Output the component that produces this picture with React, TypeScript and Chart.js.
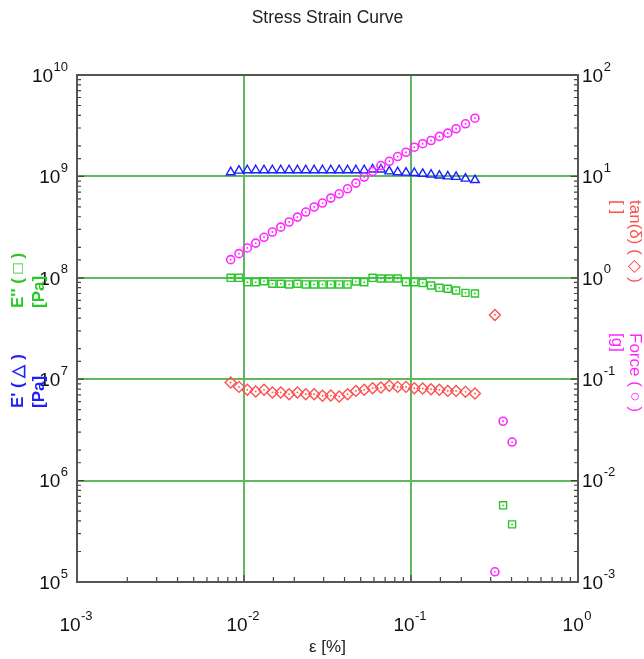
import { useEffect, useRef } from 'react';
import { Chart, registerables } from 'chart.js';

Chart.register(...registerables);

// ---- data ----
const strain = [
  0.00832, 0.00933, 0.01047, 0.01175, 0.01318, 0.01479, 0.0166, 0.01862, 0.02089, 0.02344,
  0.0263, 0.02951, 0.03311, 0.03715, 0.04169, 0.04677, 0.05248, 0.05888, 0.06607, 0.07413,
  0.08318, 0.09333, 0.1047, 0.1175, 0.1318, 0.1479, 0.166, 0.1862, 0.212, 0.2415,
];
// E' [Pa] (triangles)
const storageModulus = [
  1.10e9, 1.14e9, 1.15e9, 1.15e9, 1.15e9, 1.15e9, 1.15e9, 1.15e9, 1.15e9, 1.15e9,
  1.15e9, 1.15e9, 1.15e9, 1.15e9, 1.15e9, 1.15e9, 1.15e9, 1.17e9, 1.17e9, 1.12e9,
  1.10e9, 1.09e9, 1.08e9, 1.06e9, 1.04e9, 1.02e9, 1.0e9, 0.99e9, 0.95e9, 0.92e9,
];
// E'' [Pa] (squares)
const lossModulus = [
  1.0e8, 1.0e8, 0.905e8, 0.905e8, 0.926e8, 0.873e8, 0.873e8, 0.86e8, 0.873e8, 0.86e8,
  0.86e8, 0.86e8, 0.86e8, 0.86e8, 0.86e8, 0.92e8, 0.905e8, 1.0e8, 0.984e8, 0.984e8,
  0.984e8, 0.905e8, 0.905e8, 0.89e8, 0.84e8, 0.797e8, 0.78e8, 0.75e8, 0.71e8, 0.70e8,
];
// tan(delta) [-] (diamonds)
const tanDelta = [
  0.0928, 0.084, 0.0785, 0.0756, 0.0785, 0.074, 0.074, 0.0712, 0.074, 0.0712,
  0.0712, 0.0685, 0.069, 0.0675, 0.0712, 0.0767, 0.0785, 0.0815, 0.0828, 0.086,
  0.084, 0.084, 0.0815, 0.081, 0.0797, 0.0785, 0.0767, 0.0767, 0.075, 0.0723,
];
// Force [g] (circles)
const force = [
  1.51, 1.73, 1.97, 2.2, 2.51, 2.83, 3.16, 3.55, 3.97, 4.45,
  4.99, 5.46, 6.11, 6.74, 7.55, 8.59, 9.84, 11.2, 12.8, 14.1,
  15.7, 17.3, 19.4, 21.0, 22.6, 24.8, 26.7, 29.5, 33.0, 37.5,
];
// last (broken) measurement points
const tailStrain = [0.318, 0.356, 0.403];
const tailLossModulus = [null, 5.7e5, 3.7e5];
const tailTanDelta = [0.43, null, null];
const tailForce = [0.00126, 0.0385, 0.024];

const xTickExponents = [-3, -2, -1, 0];
const leftTickExponents = [10, 9, 8, 7, 6, 5];
const rightTickExponents = [2, 1, 0, -1, -2, -3];

const titleText = 'Stress Strain Curve';
const xTitle = 'ε [%]';

const BLUE = 'rgb(30,30,255)';
const GREEN = 'rgb(40,200,40)';
const RED = 'rgb(255,80,80)';
const MAGENTA = 'rgb(255,40,255)';
const GRID = 'rgb(95,185,95)';
const FONT = '"Liberation Sans", Arial, Helvetica, sans-serif';

function points(xs: number[], ys: (number | null)[]) {
  const out: { x: number; y: number }[] = [];
  xs.forEach((x, i) => {
    const y = ys[i];
    if (y != null) out.push({ x, y });
  });
  return out;
}

const isPow10 = (v: number) => {
  const l = Math.log10(v);
  return Math.abs(l - Math.round(l)) < 1e-6;
};

function drawPow(ctx: CanvasRenderingContext2D, exp: number, x: number, y: number, align: 'left' | 'right' | 'center') {
  const baseFont = `19px ${FONT}`;
  const expFont = `13px ${FONT}`;
  const e = String(exp);
  ctx.font = baseFont;
  const wb = ctx.measureText('10').width;
  ctx.font = expFont;
  const we = ctx.measureText(e).width;
  const total = wb + we + 0.5;
  let left = x;
  if (align === 'right') left = x - total;
  else if (align === 'center') left = x - total / 2;
  ctx.textAlign = 'left';
  ctx.textBaseline = 'alphabetic';
  ctx.font = baseFont;
  ctx.fillText('10', left, y + 6.8);
  ctx.font = expFont;
  ctx.fillText(e, left + wb + 0.5, y - 4.5);
}

function rotText(ctx: CanvasRenderingContext2D, text: string, x: number, y: number, angle: number, color: string, font: string) {
  ctx.save();
  ctx.translate(x, y);
  ctx.rotate(angle);
  ctx.fillStyle = color;
  ctx.font = font;
  ctx.textAlign = 'left';
  ctx.textBaseline = 'middle';
  ctx.fillText(text, 0, 0);
  ctx.restore();
}

const decorPlugin = {
  id: 'decor',
  afterDatasetsDraw(chart: any) {
    const ctx = chart.ctx as CanvasRenderingContext2D;
    chart.data.datasets.forEach((ds: any, i: number) => {
      if (!ds.centerDot) return;
      const meta = chart.getDatasetMeta(i);
      ctx.save();
      ctx.fillStyle = ds.borderColor;
      meta.data.forEach((el: any) => {
        ctx.beginPath();
        ctx.arc(el.x, el.y, 0.9, 0, Math.PI * 2);
        ctx.fill();
      });
      ctx.restore();
    });
  },
  afterDraw(chart: any) {
    const ctx = chart.ctx as CanvasRenderingContext2D;
    const a = chart.chartArea;
    const { x, y, y2 } = chart.scales;
    ctx.save();

    // tick marks (inside)
    ctx.strokeStyle = '#444';
    ctx.lineWidth = 1.2;
    ctx.beginPath();
    x.ticks.forEach((t: any) => {
      const p = x.getPixelForValue(t.value);
      if (p <= a.left + 1 || p >= a.right - 1) return;
      const len = t.major ? 7 : 5;
      ctx.moveTo(p, a.bottom);
      ctx.lineTo(p, a.bottom - len);
    });
    y.ticks.forEach((t: any) => {
      const p = y.getPixelForValue(t.value);
      if (p <= a.top + 1 || p >= a.bottom - 1) return;
      const len = t.major ? 7 : 4;
      ctx.moveTo(a.left, p);
      ctx.lineTo(a.left + len, p);
    });
    y2.ticks.forEach((t: any) => {
      const p = y2.getPixelForValue(t.value);
      if (p <= a.top + 1 || p >= a.bottom - 1) return;
      const len = t.major ? 7 : 4;
      ctx.moveTo(a.right, p);
      ctx.lineTo(a.right - len, p);
    });
    ctx.stroke();

    // frame
    ctx.strokeStyle = '#555';
    ctx.lineWidth = 2;
    ctx.strokeRect(a.left, a.top, a.right - a.left, a.bottom - a.top);

    // tick labels
    ctx.fillStyle = '#111';
    leftTickExponents.forEach((e) => {
      drawPow(ctx, e, a.left - 9, y.getPixelForValue(Math.pow(10, e)), 'right');
    });
    rightTickExponents.forEach((e) => {
      drawPow(ctx, e, a.right + 4, y2.getPixelForValue(Math.pow(10, e)), 'left');
    });
    xTickExponents.forEach((e) => {
      drawPow(ctx, e, x.getPixelForValue(Math.pow(10, e)) - 1, a.bottom + 42, 'center');
    });

    // titles
    ctx.fillStyle = '#222';
    ctx.font = `17.5px ${FONT}`;
    ctx.textAlign = 'center';
    ctx.textBaseline = 'middle';
    ctx.fillText(titleText, (a.left + a.right) / 2, 18);
    ctx.font = `17px ${FONT}`;
    ctx.fillText(xTitle, (a.left + a.right) / 2, 647);

    const leftFont = `bold 17px ${FONT}`;
    const rightFont = `17px ${FONT}`;
    // left axis titles (rotated, reading upward)
    rotText(ctx, "E'' ( □ )", 18, 308, -Math.PI / 2, GREEN, leftFont);
    rotText(ctx, '[Pa]', 39, 308, -Math.PI / 2, GREEN, leftFont);
    rotText(ctx, "E' ( △ )", 18, 408, -Math.PI / 2, BLUE, leftFont);
    rotText(ctx, '[Pa]', 39, 408, -Math.PI / 2, BLUE, leftFont);
    // right axis titles (rotated, reading downward)
    rotText(ctx, 'tan(δ) ( ◇ )', 635, 200, Math.PI / 2, RED, rightFont);
    rotText(ctx, '[ ]', 617, 200, Math.PI / 2, RED, rightFont);
    rotText(ctx, 'Force ( ○ )', 635, 333, Math.PI / 2, MAGENTA, rightFont);
    rotText(ctx, '[g]', 617, 333, Math.PI / 2, MAGENTA, rightFont);

    ctx.restore();
  },
};

export default function App() {
  const ref = useRef<HTMLCanvasElement | null>(null);

  useEffect(() => {
    if (!ref.current) return;
    const gridColor = (c: any) => {
      const t = c.tick;
      if (!t || !t.major) return 'rgba(0,0,0,0)';
      const sc = c.scale;
      if (Math.abs(t.value - sc.min) / sc.min < 1e-6 || Math.abs(t.value - sc.max) / sc.max < 1e-6) return 'rgba(0,0,0,0)';
      return isPow10(t.value) ? GRID : 'rgba(0,0,0,0)';
    };
    const chart = new Chart(ref.current, {
      type: 'scatter',
      data: {
        datasets: [
          {
            label: 'Force',
            data: [...points(strain, force), ...points(tailStrain, tailForce)],
            yAxisID: 'y2',
            pointStyle: 'circle',
            pointRadius: 4,
            borderColor: MAGENTA,
            backgroundColor: 'rgba(0,0,0,0)',
            borderWidth: 1.6,
            centerDot: true,
          } as any,
          {
            label: "E'",
            data: points(strain, storageModulus),
            yAxisID: 'y',
            pointStyle: 'triangle',
            pointRadius: 5,
            borderColor: BLUE,
            backgroundColor: 'rgba(0,0,0,0)',
            borderWidth: 1.4,
          },
          {
            label: "E''",
            data: [...points(strain, lossModulus), ...points(tailStrain, tailLossModulus)],
            yAxisID: 'y',
            pointStyle: 'rect',
            pointRadius: 5,
            borderColor: GREEN,
            backgroundColor: 'rgba(0,0,0,0)',
            borderWidth: 1.4,
            centerDot: true,
          } as any,
          {
            label: 'tan(δ)',
            data: [...points(strain, tanDelta), ...points(tailStrain, tailTanDelta)],
            yAxisID: 'y2',
            pointStyle: 'rectRot',
            pointRadius: 5.5,
            borderColor: RED,
            backgroundColor: 'rgba(0,0,0,0)',
            borderWidth: 1.4,
            centerDot: true,
          } as any,
        ],
      },
      options: {
        responsive: false,
        animation: false,
        events: [],
        layout: { padding: { left: 77, right: 66, top: 75, bottom: 77 } },
        plugins: {
          legend: { display: false },
          title: { display: false },
          tooltip: { enabled: false },
        },
        scales: {
          x: {
            type: 'logarithmic',
            min: 1e-3,
            max: 1,
            ticks: { display: false, autoSkip: false },
            border: { display: false },
            grid: { drawTicks: false, color: gridColor, lineWidth: 2 },
            afterFit: (s: any) => { s.height = 0; },
          },
          y: {
            type: 'logarithmic',
            position: 'left',
            min: 1e5,
            max: 1e10,
            ticks: { display: false, autoSkip: false },
            border: { display: false },
            grid: { drawTicks: false, color: gridColor, lineWidth: 2 },
            afterFit: (s: any) => { s.width = 0; },
          },
          y2: {
            type: 'logarithmic',
            position: 'right',
            min: 1e-3,
            max: 1e2,
            ticks: { display: false, autoSkip: false },
            border: { display: false },
            grid: { display: false, drawTicks: false },
            afterFit: (s: any) => { s.width = 0; },
          },
        },
      } as any,
      plugins: [decorPlugin],
    });
    return () => chart.destroy();
  }, []);

  return (
    <div style={{ position: 'absolute', left: 0, top: 0, width: 644, height: 659, background: '#fff' }}>
      <canvas ref={ref} width={644} height={659} style={{ display: 'block' }} />
    </div>
  );
}
